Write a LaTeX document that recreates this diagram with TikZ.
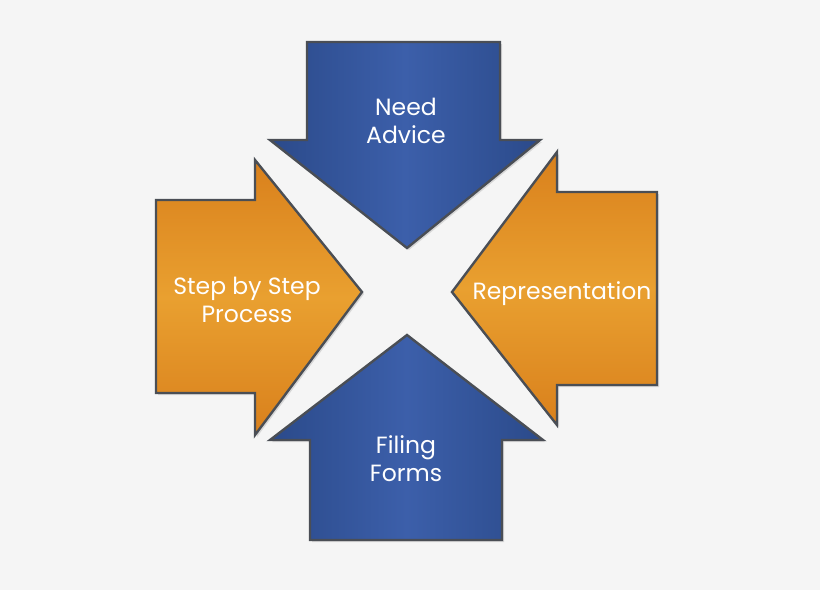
\documentclass[tikz,border=0pt]{standalone}
\usepackage{fontspec}
\setmainfont{Poppins}
\usetikzlibrary{shadows}
\definecolor{bg}{HTML}{F5F5F5}
\definecolor{bdark}{HTML}{2B4A8A}
\definecolor{blight}{HTML}{3C5FAA}
\definecolor{odark}{HTML}{D9801C}
\definecolor{olight}{HTML}{E9A030}
\definecolor{edge}{HTML}{4A4E55}
\begin{document}
\begin{tikzpicture}[x=1pt,y=-1pt,
  barrow/.style={draw=edge,line width=2.4pt,line join=miter,left color=bdark,right color=bdark,middle color=blight,drop shadow={opacity=0.25,shadow xshift=2pt,shadow yshift=-2pt}},
  oarrow/.style={draw=edge,line width=2.4pt,line join=miter,top color=odark,bottom color=odark,middle color=olight,drop shadow={opacity=0.25,shadow xshift=2pt,shadow yshift=-2pt}},
  lbl/.style={text=white,font=\fontsize{23.5}{28}\selectfont,align=center}]
\fill[bg] (0,0) rectangle (820,590);
\useasboundingbox (0,0) rectangle (820,590);
% top
\path[barrow] (307,42) -- (500,42) -- (500,140) -- (540,140) -- (407,248) -- (270,140) -- (307,140) -- cycle;
% bottom
\path[barrow] (310,540) -- (502,540) -- (502,440) -- (543,440) -- (407,335) -- (270,440) -- (310,440) -- cycle;
% left
\path[oarrow] (156,200) -- (255,200) -- (255,160) -- (362,292) -- (255,435) -- (255,393) -- (156,393) -- cycle;
% right
\path[oarrow] (657,192) -- (557,192) -- (557,152) -- (452,292) -- (557,425) -- (557,385) -- (657,385) -- cycle;
\node[lbl] (need) at (406,121) {Need\\Advice};
\node[lbl] (filing) at (406,459) {Filing\\Forms};
\node[lbl] (step) at (247,300) {Step by Step\\Process};
\node[lbl] (rep) at (562,294) {Representation};
\end{tikzpicture}
\end{document}
